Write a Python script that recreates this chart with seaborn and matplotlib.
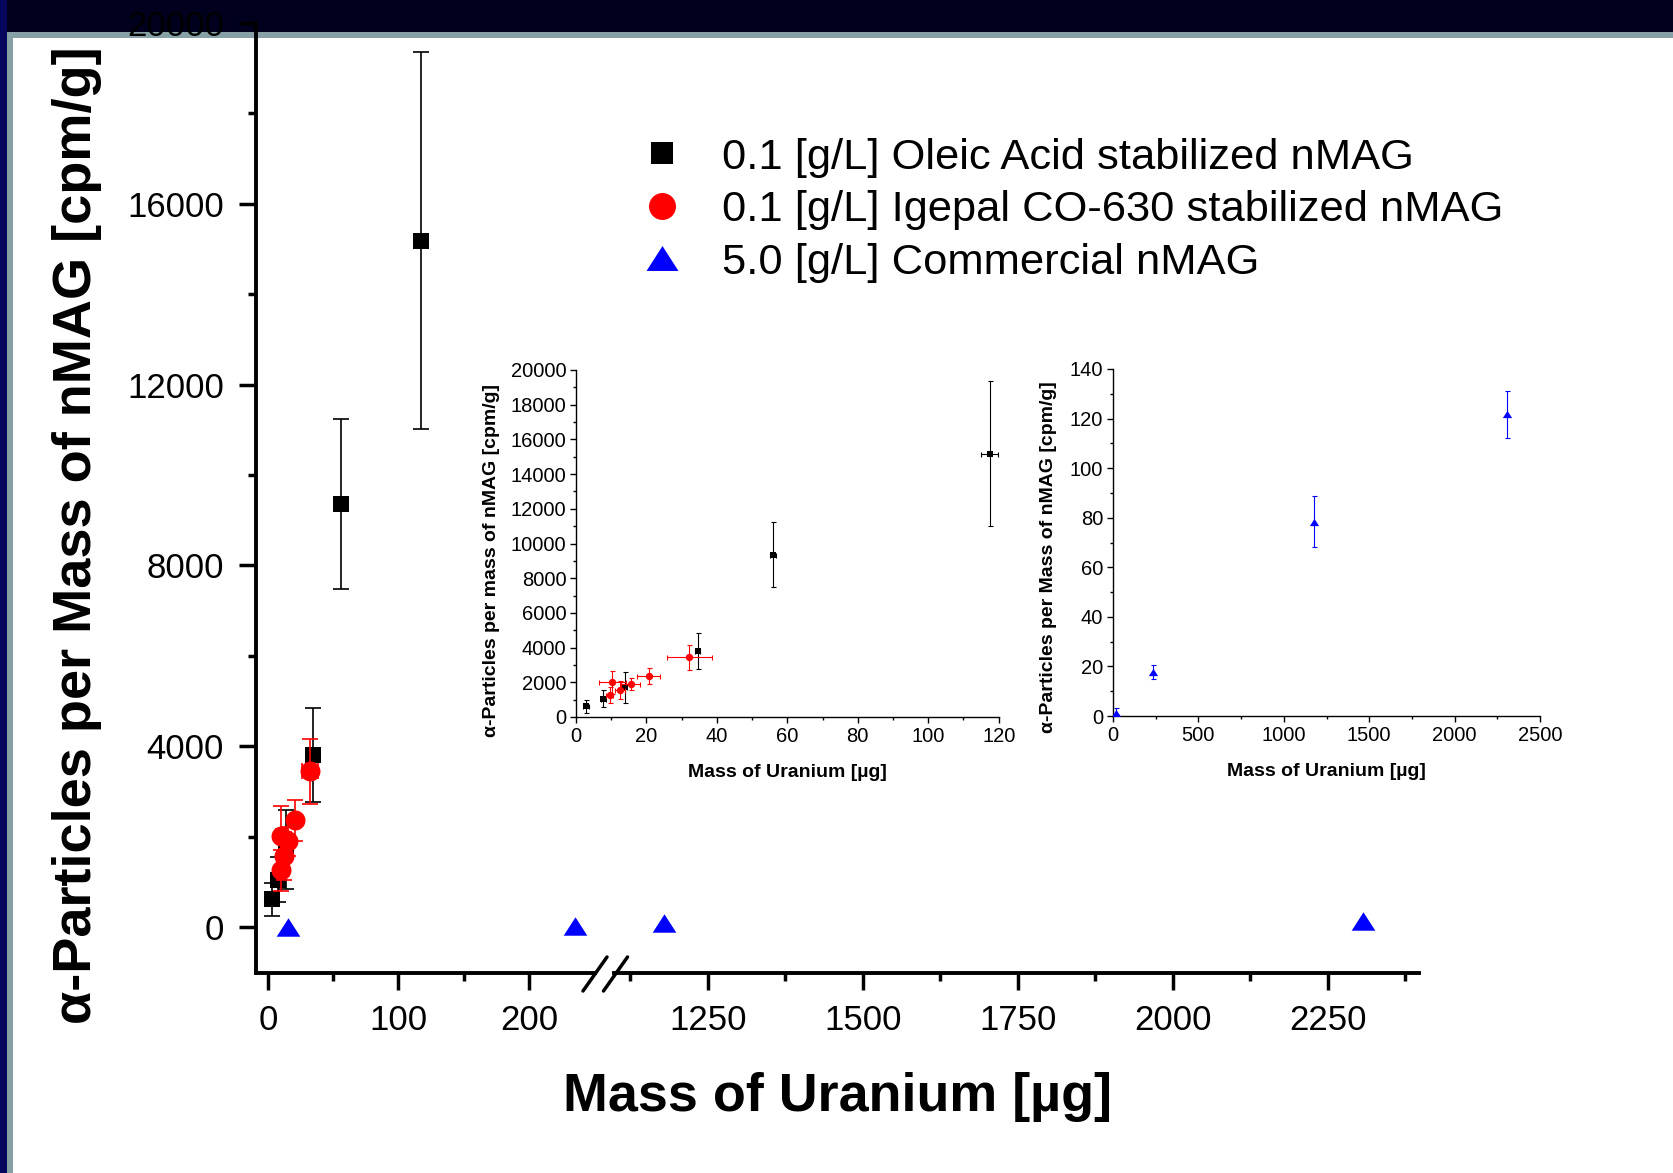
import matplotlib
matplotlib.use("Agg")
import matplotlib.pyplot as plt
from matplotlib.patches import Rectangle
from matplotlib.lines import Line2D
from matplotlib.ticker import MultipleLocator, FixedLocator
import pandas as pd
import seaborn as sns

# ---- data -------------------------------------------------------------
# 0.1 g/L oleic acid stabilized nMAG
oleic_u = [2.9, 7.8, 13.8, 34.5, 56.0, 117.4]
oleic_u_err = [0.8, 0.8, 0.8, 0.8, 0.8, 2.4]
oleic_alpha = [610, 1050, 1710, 3800, 9350, 15180]
oleic_alpha_err = [360, 500, 880, 1040, 1880, 4170]

# 0.1 g/L Igepal CO-630 stabilized nMAG
igepal_u = [9.6, 10.3, 12.5, 15.5, 20.6, 32.1]
igepal_u_err = [1.0, 3.9, 1.3, 2.6, 3.2, 6.4]
igepal_alpha = [1250, 2010, 1570, 1900, 2360, 3450]
igepal_alpha_err = [460, 670, 530, 320, 450, 720]

# 5.0 g/L commercial nMAG
commercial_u = [15, 235, 1179, 2307]
commercial_alpha = [1.2, 17.8, 78.4, 121.8]
commercial_alpha_err = [2.2, 2.7, 10.4, 9.5]

series_labels = [
    "0.1 [g/L] Oleic Acid stabilized nMAG",
    "0.1 [g/L] Igepal CO-630 stabilized nMAG",
    "5.0 [g/L] Commercial nMAG",
]
main_ylabel = "α-Particles per Mass of nMAG [cpm/g]"
inset1_ylabel = "α-Particles per mass of nMAG [cpm/g]"
inset2_ylabel = "α-Particles per Mass of nMAG [cpm/g]"
xlabel_text = "Mass of Uranium [µg]"

main_xticks_low = [0, 100, 200]
main_xticks_high = [1250, 1500, 1750, 2000, 2250]

oleic = pd.DataFrame({"u": oleic_u, "alpha": oleic_alpha})
igepal = pd.DataFrame({"u": igepal_u, "alpha": igepal_alpha})
commercial = pd.DataFrame({"u": commercial_u, "alpha": commercial_alpha})

# ---- style ------------------------------------------------------------
sns.set_style("ticks")
plt.rcParams["font.family"] = ["Liberation Sans", "DejaVu Sans"]
plt.rcParams["axes.unicode_minus"] = False
plt.rcParams["text.color"] = "black"
plt.rcParams["axes.labelcolor"] = "black"

W, H = 1673, 1173
fig = plt.figure(figsize=(W / 100, H / 100), dpi=100, facecolor="white")


def box(x0, y0, x1, y1):
    """Axes rectangle from pixel edges (origin at top-left)."""
    return [x0 / W, 1 - y1 / H, (x1 - x0) / W, (y1 - y0) / H]


# slide-style frame: dark band at top and left with a grey rim
navy_top, navy_side, rim = "#00001e", "#06065c", "#86a0a6"
for (x, y, w, h, c) in [
    (0, 1 - 32 / H, 1, 32 / H, navy_top),
    (7 / W, 1 - 38 / H, 1, 6 / H, rim),
    (0, 0, 7 / W, 1, navy_side),
    (7 / W, 0, 6 / W, 1 - 32 / H, rim),
]:
    fig.add_artist(Rectangle((x, y), w, h, transform=fig.transFigure,
                             color=c, zorder=-5, lw=0))

tri = [(0, 0.78), (-1, -0.78), (1, -0.78)]


def draw(ax, df, xerr, yerr, color, marker, size, elw, cap, z):
    ax.errorbar(df["u"], df["alpha"], xerr=xerr, yerr=yerr, fmt="none",
                ecolor=color, elinewidth=elw, capsize=cap, capthick=elw,
                zorder=z)
    sns.scatterplot(data=df, x="u", y="alpha", ax=ax, marker=marker, s=size,
                    color=color, linewidth=0, zorder=z + 0.5, legend=False)
    return ax.collections[-1]


# ---- main broken-axis plot ---------------------------------------------
ax_l = fig.add_axes(box(256, 23, 595, 973))
ax_r = fig.add_axes(box(614, 23, 1419, 973), sharey=ax_l)

handles = []
for ax in (ax_l, ax_r):
    ax.set_facecolor("none")
    h1 = draw(ax, oleic, oleic_u_err, oleic_alpha_err, "black", "s", 149, 1.2, 6, 2)
    h2 = draw(ax, igepal, igepal_u_err, igepal_alpha_err, "red", "o", 207, 1.2, 6, 4)
    h3 = draw(ax, commercial, None, commercial_alpha_err, "blue", tri, 290, 1.2, 3, 6)
    if not handles:
        handles = [h1, h2, h3]

ax_l.set_ylim(-1018, 20000)
ax_l.set_xlim(-9.2, 250.6)
ax_r.set_xlim(1098.4, 2396.8)

ax_l.yaxis.set_major_locator(MultipleLocator(4000))
ax_l.yaxis.set_minor_locator(MultipleLocator(2000))
ax_l.xaxis.set_major_locator(FixedLocator(main_xticks_low))
ax_l.xaxis.set_minor_locator(FixedLocator([50, 150]))
ax_r.xaxis.set_major_locator(FixedLocator(main_xticks_high))
ax_r.xaxis.set_minor_locator(FixedLocator([1125, 1375, 1625, 1875, 2125, 2375]))

for ax in (ax_l, ax_r):
    ax.tick_params(which="major", direction="out", length=12, width=2.5,
                   labelsize=25, color="black", labelcolor="black")
    ax.tick_params(which="minor", direction="out", length=5.5, width=2.5,
                   color="black")
    ax.tick_params(axis="x", pad=10.3)
    for s in ("top", "right"):
        ax.spines[s].set_visible(False)
    for s in ("left", "bottom"):
        ax.spines[s].set_linewidth(2.8)
        ax.spines[s].set_color("black")
    ax.set_xlabel("")
    ax.set_ylabel("")
ax_l.tick_params(axis="y", pad=11)
ax_r.spines["left"].set_visible(False)
ax_r.tick_params(axis="y", which="both", left=False, labelleft=False)

ax_l.set_ylabel(main_ylabel, fontsize=39, fontweight="bold", va="center")
ax_l.yaxis.set_label_coords(-0.528, 0.461)
ax_r.set_xlabel(xlabel_text, fontsize=38.8, fontweight="bold", va="center")
ax_r.xaxis.set_label_coords(0.278, -0.1305)

# axis-break marks
for cx in (595, 615.5):
    fig.add_artist(Line2D([(cx - 12) / W, (cx + 12) / W],
                          [1 - 991 / H, 1 - 957 / H],
                          transform=fig.transFigure, color="black", lw=2.5))

fig.legend(handles, series_labels, loc="upper left",
           bbox_to_anchor=(640 / W, 1 - 137.5 / H), bbox_transform=fig.transFigure,
           frameon=False, fontsize=31.3, handlelength=1.0, handletextpad=0.88,
           labelspacing=0.29, borderpad=0, borderaxespad=0, markerscale=1.35,
           scatteryoffsets=[0.5])

# ---- insets -----------------------------------------------------------
ins1 = fig.add_axes(box(576, 370, 998.7, 717))
ins2 = fig.add_axes(box(1113, 369, 1540, 716))

draw(ins1, oleic, oleic_u_err, oleic_alpha_err, "black", "s", 25, 0.8, 1.8, 2)
draw(ins1, igepal, igepal_u_err, igepal_alpha_err, "red", "o", 28, 0.8, 1.8, 4)
draw(ins2, commercial, None, commercial_alpha_err, "blue", tri, 45, 0.8, 1.8, 6)

ins1.set_xlim(0, 120)
ins1.set_ylim(0, 20000)
ins1.xaxis.set_major_locator(MultipleLocator(20))
ins1.xaxis.set_minor_locator(MultipleLocator(10))
ins1.yaxis.set_major_locator(MultipleLocator(2000))
ins1.yaxis.set_minor_locator(MultipleLocator(1000))

ins2.set_xlim(0, 2500)
ins2.set_ylim(0, 140)
ins2.xaxis.set_major_locator(MultipleLocator(500))
ins2.xaxis.set_minor_locator(MultipleLocator(250))
ins2.yaxis.set_major_locator(MultipleLocator(20))
ins2.yaxis.set_minor_locator(MultipleLocator(10))

for ax, ylab, ycoord in ((ins1, inset1_ylabel, (-0.201, 0.452)),
                         (ins2, inset2_ylabel, (-0.152, 0.458))):
    ax.set_facecolor("none")
    for s in ("top", "right"):
        ax.spines[s].set_visible(False)
    for s in ("left", "bottom"):
        ax.spines[s].set_linewidth(1.0)
        ax.spines[s].set_color("black")
    ax.tick_params(which="major", direction="out", length=4, width=1,
                   labelsize=14.5, pad=3, color="black", labelcolor="black")
    ax.tick_params(which="minor", direction="out", length=2.5, width=1,
                   color="black")
    ax.set_ylabel(ylab, fontsize=14, fontweight="bold", va="center")
    ax.yaxis.set_label_coords(*ycoord)
    ax.set_xlabel(xlabel_text, fontsize=14, fontweight="bold", va="center")
    ax.xaxis.set_label_coords(0.5, -0.16)

fig.savefig("out.png", dpi=100, facecolor="white")
